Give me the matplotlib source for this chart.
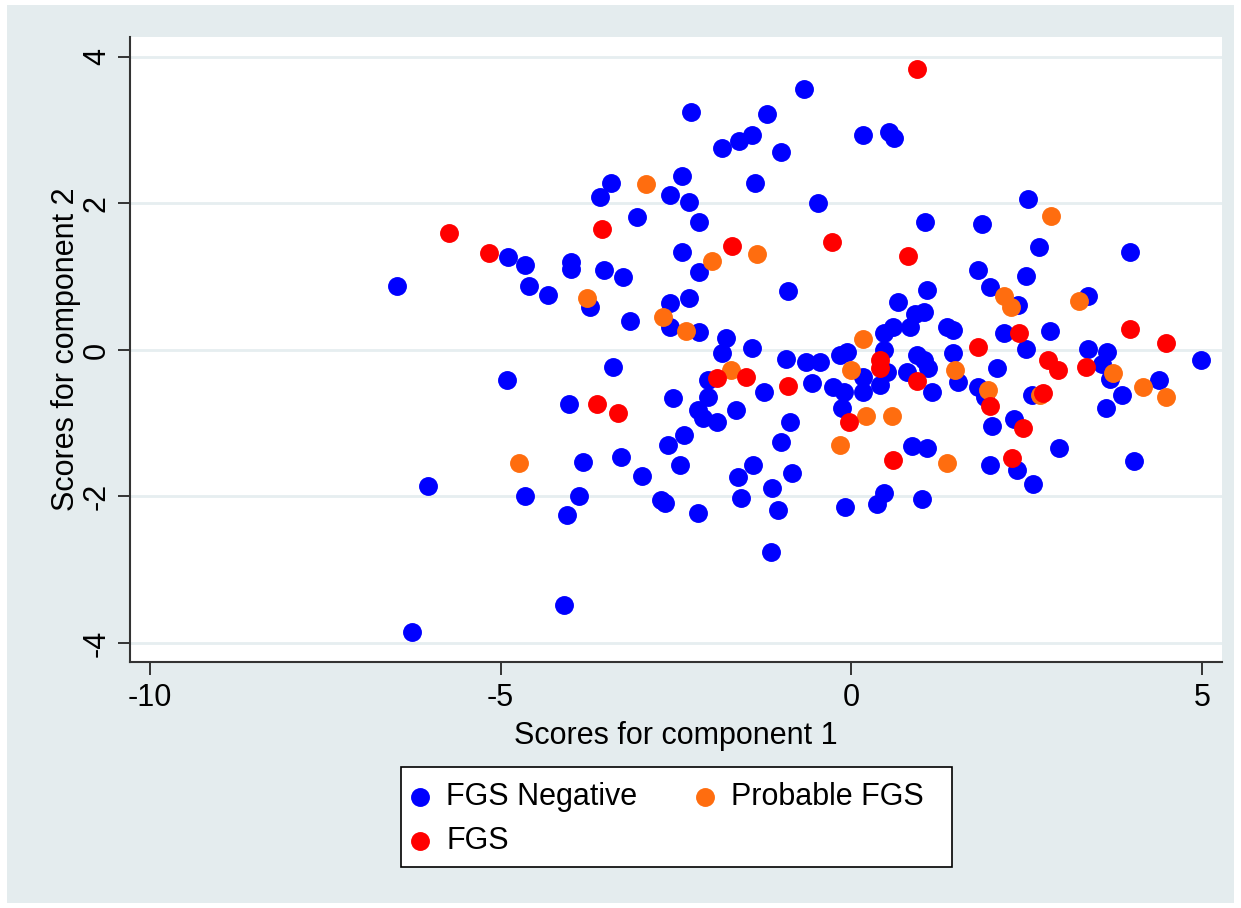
import matplotlib
matplotlib.use('Agg')
import matplotlib.pyplot as plt
from matplotlib.patches import Rectangle

plt.rcParams['font.family'] = ['Liberation Sans', 'DejaVu Sans']

# scores
neg_x = [-6.48, -6.03, -6.27, -4.90, -4.66, -4.59, -4.32, -4.00, -3.99, -4.91,
         -4.66, -4.03, -3.83, -3.89, -4.06, -4.09, -3.73, -3.59, -3.43, -3.52,
         -3.26, -3.16, -3.40, -3.29, -3.05, -2.98, -2.29, -1.85, -1.60, -1.42,
         -1.20, -1.00, -0.68, 0.17, 0.54, 0.61, -2.42, -2.58, -2.31, -2.17,
         -1.37, -0.48, 1.05, -2.41, -2.17, -0.91, -2.59, -2.31, -2.59, -2.17,
         -1.79, -1.85, -1.42, 0.67, 1.08, 0.91, 1.03, 0.84, 0.60, 0.46,
         1.37, 1.45, -0.93, -0.64, -0.44, -0.16, -0.06, 0.46, 1.45, 1.52,
         -2.05, -1.25, -0.56, -0.26, -0.11, 0.16, 0.51, 0.41, 0.17, -0.13,
         0.87, 1.08, 0.80, 0.94, 1.03, 1.10, 1.15, -2.54, -2.19, -2.04,
         -2.11, -1.91, -1.65, -0.87, -1.01, -0.84, -1.40, -1.62, -1.58, -1.13,
         -1.05, -1.15, -2.19, -2.72, -2.65, -2.39, -2.62, -2.44, -0.09, 0.36,
         0.47, 1.01, 2.52, 1.87, 2.68, 3.97, 1.81, 2.49, 1.98, 2.38,
         3.38, 2.17, 2.83, 4.99, 2.49, 3.38, 3.65, 2.07, 1.81, 1.91,
         2.58, 2.32, 2.01, 3.58, 3.69, 3.86, 3.63, 4.39, 1.98, 2.36,
         2.59, 2.96, 4.03]
neg_y = [0.87, -1.86, -3.85, 1.27, 1.16, 0.87, 0.75, 1.20, 1.10, -0.41,
         -2.00, -0.74, -1.53, -1.99, -2.25, -3.48, 0.59, 2.09, 2.28, 1.09,
         1.00, 0.40, -0.23, -1.46, 1.81, -1.72, 3.25, 2.76, 2.85, 2.93,
         3.22, 2.70, 3.56, 2.93, 2.97, 2.89, 2.37, 2.11, 2.02, 1.75,
         2.28, 2.01, 1.75, 1.34, 1.06, 0.80, 0.64, 0.71, 0.31, 0.25,
         0.16, -0.04, 0.03, 0.65, 0.82, 0.49, 0.52, 0.31, 0.31, 0.23,
         0.31, 0.27, -0.12, -0.16, -0.16, -0.07, -0.03, 0.00, -0.04, -0.44,
         -0.41, -0.57, -0.45, -0.50, -0.57, -0.37, -0.30, -0.48, -0.58, -0.79,
         -1.31, -1.34, -0.30, -0.07, -0.14, -0.25, -0.58, -0.66, -0.82, -0.64,
         -0.93, -0.98, -0.82, -0.99, -1.25, -1.68, -1.57, -1.73, -2.02, -1.88,
         -2.18, -2.76, -2.22, -2.05, -2.09, -1.16, -1.30, -1.57, -2.14, -2.10,
         -1.95, -2.03, 2.06, 1.72, 1.41, 1.34, 1.09, 1.01, 0.86, 0.61,
         0.74, 0.23, 0.26, -0.14, 0.01, 0.01, -0.03, -0.24, -0.50, -0.64,
         -0.61, -0.94, -1.04, -0.19, -0.40, -0.61, -0.79, -0.41, -1.57, -1.64,
         -1.83, -1.34, -1.51]

prob_x = [-2.93, -3.77, -1.99, -1.35, -2.69, -2.36, 0.17, -1.72, -0.01, 0.21,
          0.58, -0.16, 1.37, 1.48, -4.74, 2.85, 2.18, 2.28, 3.25, 1.95,
          2.69, 3.73, 4.16, 4.49]
prob_y = [2.26, 0.71, 1.21, 1.31, 0.45, 0.26, 0.15, -0.27, -0.27, -0.90,
          -0.90, -1.30, -1.54, -0.27, -1.54, 1.83, 0.74, 0.59, 0.67, -0.54,
          -0.61, -0.31, -0.50, -0.64]

fgs_x = [0.94, -1.70, -0.27, 0.81, -5.74, -5.16, -3.56, -3.62, -3.32, -1.92,
         -1.50, -0.90, 0.41, 0.41, -0.03, 0.60, 0.94, 2.39, 3.97, 4.49,
         1.80, 1.97, 2.81, 2.95, 2.73, 2.45, 3.35, 2.29]
fgs_y = [3.83, 1.42, 1.47, 1.28, 1.60, 1.32, 1.65, -0.74, -0.86, -0.38,
         -0.37, -0.49, -0.14, -0.25, -0.98, -1.50, -0.42, 0.23, 0.29, 0.10,
         0.04, -0.76, -0.14, -0.27, -0.59, -1.06, -0.23, -1.47]

x_ticks = [-10, -5, 0, 5]
y_ticks = [-4, -2, 0, 2, 4]

W, H = 1241, 908
bg = '#e4ecee'
fig = plt.figure(figsize=(W / 100, H / 100), dpi=100, facecolor='white')
fig.add_artist(Rectangle((7/W, 5/H), 1227/W, 898/H,
                         transform=fig.transFigure, facecolor=bg,
                         edgecolor='none', zorder=-5))

ax = fig.add_axes([130/W, 246/H, 1092/W, 625/H])
ax.set_facecolor('white')
ms = 185
h_neg = ax.scatter(neg_x, neg_y, s=ms, c='#0000ff', linewidths=0, label='FGS Negative', zorder=3)
h_prob = ax.scatter(prob_x, prob_y, s=ms, c='#ff6d0f', linewidths=0, label='Probable FGS', zorder=3)
h_fgs = ax.scatter(fgs_x, fgs_y, s=ms, c='#ff0000', linewidths=0, label='FGS', zorder=3)

ax.set_xlim(-10.285, 5.285)
ax.set_ylim(-4.26, 4.273)
ax.set_xticks(x_ticks)
ax.set_yticks(y_ticks)
ax.set_xticklabels([str(t) for t in x_ticks])
ax.set_yticklabels([str(t) for t in y_ticks], rotation=90, va='center')
ax.grid(axis='y', color='#e6eef0', linewidth=2, zorder=1)
ax.set_axisbelow(True)

for s in ['top', 'right']:
    ax.spines[s].set_visible(False)
for s in ['left', 'bottom']:
    ax.spines[s].set_color('#333333')
    ax.spines[s].set_linewidth(1.5)
ax.tick_params(axis='both', direction='out', length=9, width=1.4,
               color='#333333', labelsize=22)
ax.tick_params(axis='x', pad=6)
ax.tick_params(axis='y', pad=4)

ax.set_xlabel('Scores for component 1', fontsize=22, labelpad=6)
ax.set_ylabel('Scores for component 2', fontsize=22, labelpad=1)

# legend box drawn by hand, Stata style (wider on the right)
fig.add_artist(Rectangle((401/W, 1 - 867/H), 551/W, 100/H,
                         transform=fig.transFigure, facecolor='white',
                         edgecolor='black', linewidth=1.2, zorder=5))
# matplotlib fills columns first, so order handles to get Stata's row order
leg = fig.legend([h_neg, h_fgs, h_prob], ['FGS Negative', 'FGS', 'Probable FGS'],
                 loc='upper left', bbox_to_anchor=(408/W, 1 - 782/H), ncol=2,
                 fontsize=22, frameon=False, borderaxespad=0,
                 columnspacing=1.8, handletextpad=0.45, labelspacing=0.45,
                 borderpad=0, handlelength=0.8, markerscale=1.0)
leg.set_zorder(6)

plt.savefig('out.png', dpi=100, facecolor='white')
